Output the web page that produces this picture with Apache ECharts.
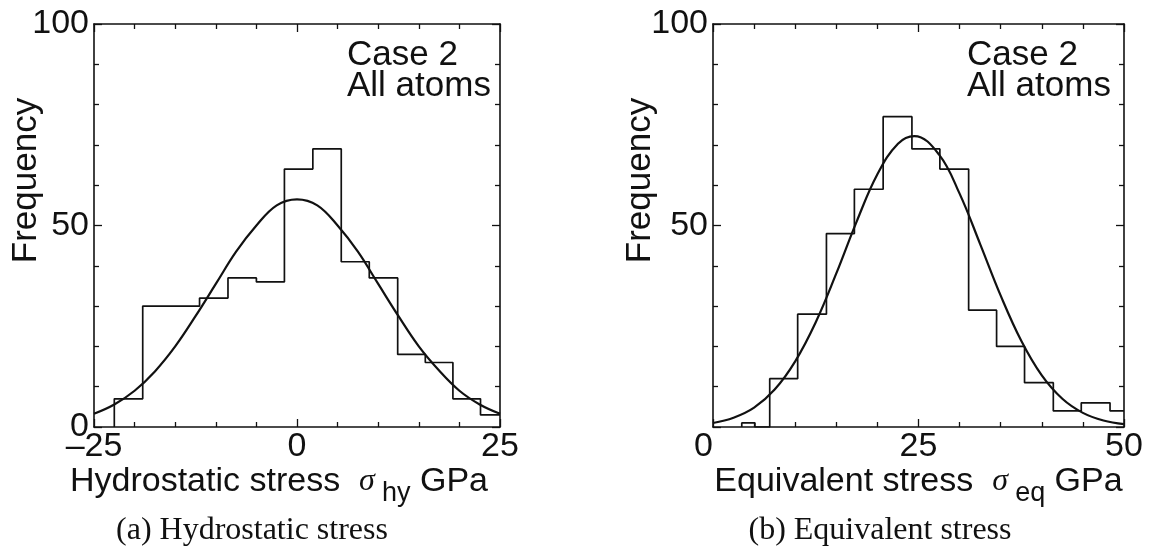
<!DOCTYPE html>
<html><head><meta charset="utf-8">
<script src="https://cdn.jsdelivr.net/npm/echarts@6/dist/echarts.min.js"></script>
<style>html,body{margin:0;padding:0;background:#fff}#c{width:1159px;height:551px}</style>
</head><body><div id="c"></div>
<script>
// ---- data ----
const hyEdges = [-22.5, -19.0, -15.5, -12.0, -8.5, -5.0, -1.55, 1.95, 5.45, 8.9, 12.4, 15.8, 19.2, 22.6, 25];
const hyCounts = [7, 30, 30, 32, 37, 36, 64, 69, 41, 37, 18, 16, 7, 3];
const hyCurveX = [-25, -22.5, -20, -17.5, -15, -12.5, -10, -7.5, -5, -2.5, 0, 2.5, 5, 7.5, 10, 12.5, 15, 17.5, 20, 22.5, 25];
const hyCurveY = [3.3, 5.6, 9.0, 13.8, 20.0, 27.5, 35.5, 43.5, 50.0, 55.0, 56.5, 55.0, 50.0, 43.5, 35.5, 27.5, 20.0, 14.0, 9.0, 5.6, 3.3];

const eqEdges = [3.5, 5.1, 6.9, 10.3, 13.8, 17.2, 20.7, 24.2, 27.6, 31.1, 34.5, 37.9, 41.4, 44.8, 48.3, 50];
const eqCounts = [1, 0, 12, 28, 48, 59, 77, 69, 64, 29, 20, 11, 4, 6, 4];
const eqCurveX = [0, 2.5, 5, 7.5, 10, 12.5, 15, 17.5, 20, 22.5, 24.5, 27.5, 30, 32.5, 35, 37.5, 40, 42.5, 45, 47.5, 50];
const eqCurveY = [1.0, 2.3, 4.8, 9.3, 16.3, 26.0, 38.1, 51.1, 62.7, 70.3, 72.2, 67.6, 57.9, 45.4, 32.6, 21.4, 12.8, 7.0, 3.5, 1.6, 0.7];

const yTicks = {min: 0, max: 100, interval: 50};
const hyRange = {min: -25, max: 25, interval: 25};
const eqRange = {min: 0, max: 50, interval: 25};

const labelText = {
  yName: 'Frequency',
  hyName: ['Hydrostatic stress', 'σ', 'hy', 'GPa'],
  eqName: ['Equivalent stress', 'σ', 'eq', 'GPa'],
  caseLines: ['Case 2', 'All atoms'],
  capA: '(a) Hydrostatic stress',
  capB: '(b) Equivalent stress'
};

// ---- build ----
function zip(xs, ys) { return xs.map((x, i) => [x, ys[i]]); }
function stepData(edges, counts) {
  const d = [[edges[0], 0]];
  for (let i = 0; i < counts.length; i++) d.push([edges[i], counts[i]]);
  d.push([edges[edges.length - 1], counts[counts.length - 1]]);
  return d;
}

const FONT = '"Liberation Sans", Arial, Helvetica, sans-serif';
const SERIF = '"Liberation Serif", "Times New Roman", serif';
const INK = '#111';
const FS = 34;

const lineS = {color: INK, width: 1.6};
const tickS = {color: INK, width: 1.3};

function baseAxis(gi, r, pos) {
  return {
    gridIndex: gi, type: 'value', min: r.min, max: r.max, interval: r.interval, position: pos,
    axisLine: {show: true, onZero: false, lineStyle: lineS},
    axisTick: {show: true, inside: true, length: 8, lineStyle: tickS},
    minorTick: {show: true, splitNumber: 5, length: 5, lineStyle: tickS},
    splitLine: {show: false}, minorSplitLine: {show: false},
    axisLabel: {show: false}
  };
}
function richName(parts) {
  return '{a|' + parts[0] + '\u00a0\u00a0}{b|' + parts[1] + '}{s|\u00a0}{c|' + parts[2] + '}{a|\u00a0' + parts[3] + '}';
}
const nameRich = {
  a: {fontSize: FS, fontFamily: FONT, color: INK},
  s: {fontSize: 26, fontFamily: FONT, color: INK},
  b: {fontSize: 32, fontFamily: SERIF, fontStyle: 'italic', color: INK},
  c: {fontSize: 27, fontFamily: FONT, color: INK, padding: [24, 0, 0, 0]}
};
const tickLabel = {
  show: true, fontSize: FS, fontFamily: FONT, color: INK, margin: 3,
  formatter: v => String(v).replace('-', '\u2013')
};

const xAxis = [];
const yAxis = [];
// grid 0
xAxis.push(Object.assign(baseAxis(0, hyRange, 'bottom'), {
  axisLabel: tickLabel,
  name: richName(labelText.hyName), nameLocation: 'middle', nameGap: 29, nameMoveOverlap: false,
  nameTextStyle: {rich: nameRich, padding: [0, 36, 0, 0]}
}));
xAxis.push(baseAxis(0, hyRange, 'top'));
yAxis.push(Object.assign(baseAxis(0, yTicks, 'left'), {
  axisLabel: Object.assign({}, tickLabel, {margin: 5}),
  name: labelText.yName, nameLocation: 'middle', nameGap: 50, nameMoveOverlap: false,
  nameTextStyle: {fontSize: 35, fontFamily: FONT, color: INK, padding: [0, 0, 0, 90]}
}));
yAxis.push(baseAxis(0, yTicks, 'right'));
// grid 1
xAxis.push(Object.assign(baseAxis(1, eqRange, 'bottom'), {
  axisLabel: Object.assign({}, tickLabel, {alignMinLabel: 'right'}),
  name: richName(labelText.eqName), nameLocation: 'middle', nameGap: 29, nameMoveOverlap: false,
  nameTextStyle: {rich: nameRich}
}));
xAxis.push(baseAxis(1, eqRange, 'top'));
yAxis.push(Object.assign(baseAxis(1, yTicks, 'left'), {
  axisLabel: Object.assign({}, tickLabel, {margin: 5, showMinLabel: false}),
  name: labelText.yName, nameLocation: 'middle', nameGap: 55, nameMoveOverlap: false,
  nameTextStyle: {fontSize: 35, fontFamily: FONT, color: INK, padding: [0, 0, 0, 90]}
}));
yAxis.push(baseAxis(1, yTicks, 'right'));

function txt(x, y, text, font, align) {
  return {type: 'text', x: x, y: y, silent: true,
    style: {text: text, font: font, fill: INK, align: align, textAlign: align,
            verticalAlign: 'middle', textVerticalAlign: 'middle'}};
}
const caseFont = '35px ' + FONT;
const capFont = '32px ' + SERIF;

const option = {
  animation: false,
  backgroundColor: '#fff',
  grid: [
    {left: 94, top: 24, width: 406, height: 403},
    {left: 713, top: 24, width: 411, height: 403}
  ],
  xAxis: xAxis,
  yAxis: yAxis,
  series: [
    {type: 'line', xAxisIndex: 0, yAxisIndex: 0, step: 'end', symbol: 'none',
     lineStyle: {color: INK, width: 1.7}, data: stepData(hyEdges, hyCounts)},
    {type: 'line', xAxisIndex: 0, yAxisIndex: 0, smooth: 0.4, symbol: 'none',
     lineStyle: {color: INK, width: 2.2}, data: zip(hyCurveX, hyCurveY)},
    {type: 'line', xAxisIndex: 2, yAxisIndex: 2, step: 'end', symbol: 'none',
     lineStyle: {color: INK, width: 1.7}, data: stepData(eqEdges, eqCounts)},
    {type: 'line', xAxisIndex: 2, yAxisIndex: 2, smooth: 0.4, symbol: 'none',
     lineStyle: {color: INK, width: 2.2}, data: zip(eqCurveX, eqCurveY)}
  ],
  graphic: [
    txt(347, 55, labelText.caseLines[0], caseFont, 'left'),
    txt(347, 86, labelText.caseLines[1], caseFont, 'left'),
    txt(967, 55, labelText.caseLines[0], caseFont, 'left'),
    txt(967, 86, labelText.caseLines[1], caseFont, 'left'),
    txt(252, 531, labelText.capA, capFont, 'center'),
    txt(880, 531, labelText.capB, capFont, 'center')
  ]
};
const chart = echarts.init(document.getElementById('c'), null, {renderer: 'canvas'});
chart.setOption(option);
</script>
</body></html>
